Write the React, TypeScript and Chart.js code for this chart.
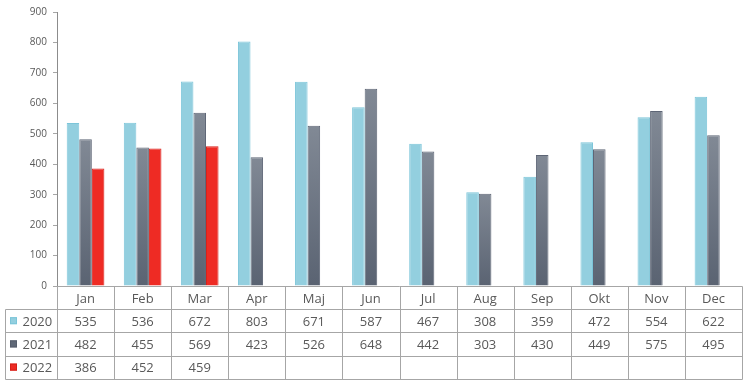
import React, { useEffect, useRef } from "react";
import { Chart, registerables } from "chart.js";

Chart.register(...registerables);

const months = ["Jan", "Feb", "Mar", "Apr", "Maj", "Jun", "Jul", "Aug", "Sep", "Okt", "Nov", "Dec"];
const seriesLabels = ["2020", "2021", "2022"];
const values2020 = [535, 536, 672, 803, 671, 587, 467, 308, 359, 472, 554, 622];
const values2021 = [482, 455, 569, 423, 526, 648, 442, 303, 430, 449, 575, 495];
const values2022: (number | null)[] = [386, 452, 459, null, null, null, null, null, null, null, null, null];
const yTicks = [0, 100, 200, 300, 400, 500, 600, 700, 800, 900];

const FONT = "'Open Sans', sans-serif";
const TEXT = "#595959";
const LINE = "#a6a6a6";

const tablePlugin = {
  id: "dataTable",
  afterDraw(chart: any) {
    const ctx = chart.ctx;
    const area = chart.chartArea;
    const left = area.left;
    const right = area.right;
    const n = months.length;
    const cw = (right - left) / n;
    const top = area.bottom;
    const rowH = 23.2;
    const tableLeft = 5.5;
    const rows = [values2020, values2021, values2022];
    const markerColors = ["#93cfdf", "#5f6877", "#ee2b24"];
    const markerBorders = ["#7cc5d9", "#555d6b", "#d42019"];
    const px = (v: number) => Math.round(v) + 0.5;

    ctx.save();
    ctx.strokeStyle = LINE;
    ctx.lineWidth = 1;
    ctx.beginPath();
    // top axis line
    ctx.moveTo(left, px(top));
    ctx.lineTo(px(right), px(top));
    for (let r = 1; r <= 4; r++) {
      const y = px(top + r * rowH);
      ctx.moveTo(tableLeft, y);
      ctx.lineTo(px(right), y);
    }
    const bottom = px(top + 4 * rowH);
    for (let i = 0; i <= n; i++) {
      const x = px(left + i * cw);
      ctx.moveTo(x, px(top));
      ctx.lineTo(x, bottom);
    }
    ctx.moveTo(tableLeft, px(top + rowH));
    ctx.lineTo(tableLeft, bottom);
    ctx.stroke();

    ctx.fillStyle = TEXT;
    ctx.font = `13px ${FONT}`;
    ctx.textAlign = "center";
    ctx.textBaseline = "alphabetic";
    for (let i = 0; i < n; i++) {
      const cx = left + (i + 0.5) * cw;
      ctx.fillText(months[i], cx, top + 16.5);
      rows.forEach((row, r) => {
        const v = row[i];
        if (v !== null && v !== undefined) {
          ctx.fillText(String(v), cx, top + (r + 1) * rowH + 16.3);
        }
      });
    }
    ctx.textAlign = "left";
    seriesLabels.forEach((lab, r) => {
      const rowTop = top + (r + 1) * rowH;
      ctx.fillStyle = markerColors[r];
      ctx.fillRect(10, rowTop + 8, 7, 7);
      ctx.strokeStyle = markerBorders[r];
      ctx.strokeRect(10.5, rowTop + 8.5, 6, 6);
      ctx.fillStyle = TEXT;
      ctx.fillText(lab, 22.5, rowTop + 16.3);
    });
    ctx.restore();
  },
};

function gradient2021(context: any) {
  const chart = context.chart;
  const y = chart.scales && chart.scales.y;
  const raw = context.raw;
  if (!y || typeof raw !== "number" || !chart.ctx) return "#6b7382";
  const top = y.getPixelForValue(raw);
  const bot = y.getPixelForValue(0);
  if (!isFinite(top) || !isFinite(bot) || top === bot) return "#6b7382";
  const g = chart.ctx.createLinearGradient(0, top, 0, bot);
  g.addColorStop(0, "#818995");
  g.addColorStop(1, "#5a6372");
  return g;
}

export default function App() {
  const ref = useRef<HTMLCanvasElement | null>(null);
  useEffect(() => {
    if (!ref.current) return;
    const chart = new Chart(ref.current, {
      type: "bar",
      data: {
        labels: months,
        datasets: [
          {
            label: seriesLabels[0],
            data: values2020,
            backgroundColor: "#93cfdf",
            borderColor: "#7cc5d9",
            borderWidth: 1,
          },
          {
            label: seriesLabels[1],
            data: values2021,
            backgroundColor: gradient2021,
            borderColor: "#5d6575",
            borderWidth: 1,
          },
          {
            label: seriesLabels[2],
            data: values2022,
            backgroundColor: "#ee2b24",
            borderColor: "#d8231c",
            borderWidth: 1,
          },
        ],
      },
      options: {
        responsive: false,
        animation: false,
        devicePixelRatio: 1,
        layout: { padding: { left: 0, right: 4, top: 11, bottom: 98 } },
        datasets: { bar: { categoryPercentage: 0.66, barPercentage: 1 } },
        plugins: { legend: { display: false }, tooltip: { enabled: false } },
        scales: {
          x: { display: false },
          y: {
            min: 0,
            max: 900,
            afterBuildTicks: (scale: any) => {
              scale.ticks = yTicks.map((v) => ({ value: v }));
            },
            afterFit: (scale: any) => {
              scale.width = 57;
            },
            ticks: {
              color: TEXT,
              font: { family: FONT, size: 10 },
              padding: 6,
            },
            grid: {
              drawOnChartArea: false,
              drawTicks: true,
              tickLength: 4,
              color: LINE,
            },
            border: { color: "#8c8c8c" },
          },
        },
      },
      plugins: [tablePlugin],
    });
    return () => chart.destroy();
  }, []);
  return (
    <div style={{ position: "fixed", left: 0, top: 0, width: 746, height: 384, background: "#fff" }}>
      <canvas ref={ref} width={746} height={384} style={{ width: 746, height: 384, display: "block" }} />
    </div>
  );
}
